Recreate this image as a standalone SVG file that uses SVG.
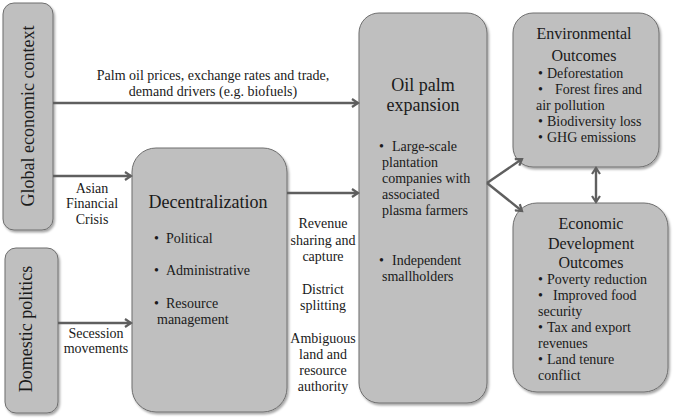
<svg xmlns="http://www.w3.org/2000/svg" width="673" height="419" viewBox="0 0 673 419">
<defs>
<filter id="sh" x="-10%" y="-10%" width="130%" height="130%">
<feDropShadow dx="1.5" dy="2" stdDeviation="1.2" flood-color="#000" flood-opacity="0.35"/>
</filter>
<marker id="ah" markerWidth="10" markerHeight="10" refX="7" refY="5" orient="auto" markerUnits="userSpaceOnUse">
<path d="M1,1 L7,5 L1,9" fill="none" stroke="#5f5f5f" stroke-width="2.2"/>
</marker>
<marker id="ahs" markerWidth="10" markerHeight="10" refX="3" refY="5" orient="auto" markerUnits="userSpaceOnUse">
<path d="M9,1 L3,5 L9,9" fill="none" stroke="#5f5f5f" stroke-width="2.2"/>
</marker>
</defs>
<style>
.box{fill:#bfbfbf;stroke:#6e6e6e;stroke-width:1;filter:url(#sh)}
text{font-family:"Liberation Serif","Times New Roman",serif;fill:#1a1a1a}
.t18{font-size:18px}
.t16{font-size:16px}
.t14{font-size:14px}
.c{text-anchor:middle}
.arr{stroke:#5f5f5f;stroke-width:2.4;fill:none;marker-end:url(#ah)}
</style>
<rect width="673" height="419" fill="#fff"/>

<g id="global">
<rect class="box" x="3" y="3" width="50" height="227" rx="11"/>
<text class="t18 c" transform="translate(34,116) rotate(-90)">Global economic context</text>
</g>

<g id="domestic">
<rect class="box" x="5" y="248" width="53" height="165" rx="11"/>
<text class="t18 c" transform="translate(32,329) rotate(-90)">Domestic politics</text>
</g>

<g id="decentralization">
<rect class="box" x="132" y="148" width="155" height="264" rx="24"/>
<text class="t18 c" x="208" y="208">Decentralization</text>
<g class="t14">
<text x="154" y="243">•</text><text x="166" y="243">Political</text>
<text x="154" y="275">•</text><text x="166" y="275">Administrative</text>
<text x="154" y="308">•</text><text x="166" y="308">Resource</text>
<text x="157" y="324">management</text>
</g>
</g>

<g id="oilpalm">
<rect class="box" x="359" y="13" width="128" height="390" rx="20"/>
<text class="t18 c" x="423" y="91">Oil palm</text>
<text class="t18 c" x="423" y="111">expansion</text>
<g class="t14">
<text x="379" y="151">•</text><text x="392" y="151">Large-scale</text>
<text x="382" y="167">plantation</text>
<text x="382" y="183">companies with</text>
<text x="382" y="199">associated</text>
<text x="382" y="215">plasma farmers</text>
<text x="379" y="265">•</text><text x="392" y="265">Independent</text>
<text x="382" y="281">smallholders</text>
</g>
</g>

<g id="environmental">
<rect class="box" x="513" y="13" width="146" height="154" rx="20"/>
<text class="t16 c" x="584" y="39">Environmental</text>
<text class="t16 c" x="584" y="61">Outcomes</text>
<g class="t14">
<text x="538" y="78">•</text><text x="547" y="78">Deforestation</text>
<text x="538" y="94">•</text><text x="555" y="94">Forest fires and</text>
<text x="536" y="110">air pollution</text>
<text x="538" y="126">•</text><text x="547" y="126">Biodiversity loss</text>
<text x="538" y="142">•</text><text x="547" y="142">GHG emissions</text>
</g>
</g>

<g id="economic">
<rect class="box" x="513" y="203" width="155" height="189" rx="24"/>
<text class="t16 c" x="591" y="229">Economic</text>
<text class="t16 c" x="591" y="249">Development</text>
<text class="t16 c" x="591" y="268">Outcomes</text>
<g class="t14">
<text x="538" y="284">•</text><text x="547" y="284">Poverty reduction</text>
<text x="538" y="300">•</text><text x="553" y="300">Improved food</text>
<text x="538" y="316">security</text>
<text x="538" y="332">•</text><text x="547" y="332">Tax and export</text>
<text x="538" y="348">revenues</text>
<text x="538" y="364">•</text><text x="547" y="364">Land tenure</text>
<text x="538" y="380">conflict</text>
</g>
</g>

<g id="connectors">
<line class="arr" x1="53" y1="103" x2="358" y2="103"/>
<line class="arr" x1="53" y1="176" x2="131" y2="176"/>
<line class="arr" x1="58" y1="323" x2="131" y2="323"/>
<line class="arr" x1="287" y1="193" x2="358" y2="193"/>
<line class="arr" x1="487" y1="183" x2="522" y2="159"/>
<line class="arr" x1="487" y1="183" x2="522" y2="211"/>
<line class="arr" x1="596" y1="168" x2="596" y2="202" marker-start="url(#ahs)"/>
<g class="t14 c">
<text x="213" y="80">Palm oil prices, exchange rates and trade,</text>
<text x="213" y="96">demand drivers (e.g. biofuels)</text>
<text x="92" y="193">Asian</text>
<text x="92" y="208">Financial</text>
<text x="92" y="224">Crisis</text>
<text x="96" y="338">Secession</text>
<text x="96" y="353">movements</text>
<text x="323" y="228">Revenue</text>
<text x="323" y="245">sharing and</text>
<text x="323" y="261">capture</text>
<text x="323" y="294">District</text>
<text x="323" y="310">splitting</text>
<text x="323" y="343">Ambiguous</text>
<text x="323" y="359">land and</text>
<text x="323" y="375">resource</text>
<text x="323" y="391">authority</text>
</g>
</g>
</svg>
